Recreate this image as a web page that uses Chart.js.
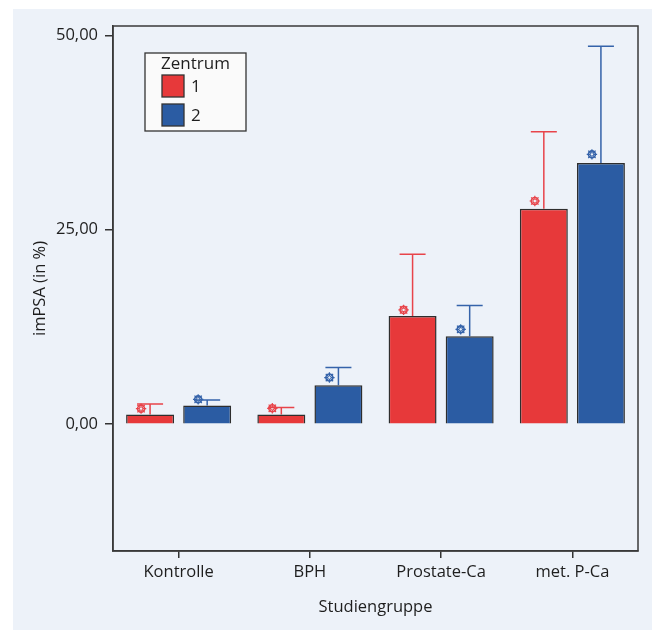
<!DOCTYPE html>
<html>
<head>
<meta charset="utf-8">
<script src="https://cdn.jsdelivr.net/npm/chart.js@4"></script>
<style>
    html, body { margin: 0; padding: 0; background: #ffffff; }
    #wrap { position: relative; width: 652px; height: 630px; }
</style>
</head>
<body>
<div id="wrap"><canvas id="myChart" width="652" height="630"></canvas></div>
<script>
// Daten
const kategorien = ["Kontrolle", "BPH", "Prostate-Ca", "met. P-Ca"];
const zentrum1 = [1.25, 1.25, 13.9, 27.7];
const zentrum2 = [2.4, 5.0, 11.3, 33.6];
// obere Fehlerbalken
const fehlerOben1 = [2.6, 2.15, 21.85, 37.6];
const fehlerOben2 = [3.1, 7.3, 15.25, 48.6];
// Markierungen (Sternsymbol)
const marker1 = [2.0, 2.05, 14.7, 28.7];
const marker2 = [3.2, 6.0, 12.2, 34.7];
const yTicks = [0, 25, 50];

const ROT = "#e7393a";
const BLAU = "#2b5ca3";
const HINTERGRUND = "#edf2f9";
const SCHRIFT = "'Open Sans', sans-serif";
const TEXTFARBE = "#1e1e1e";

/**
 * Hintergrund, Rahmen des Plotbereichs
 */
const hintergrundPlugin = {
    id: "hintergrund",
    beforeDraw(chart) {
        const ctx = chart.ctx;
        ctx.save();
        ctx.fillStyle = HINTERGRUND;
        ctx.fillRect(13, 9, chart.width - 13, chart.height - 9);
        ctx.restore();
    },
    afterDraw(chart) {
        const { ctx, chartArea } = chart;
        ctx.save();
        ctx.strokeStyle = "#3a3a3a";
        ctx.lineWidth = 1.5;
        ctx.strokeRect(chartArea.left, chartArea.top, chartArea.right - chartArea.left, chartArea.bottom - chartArea.top);
        ctx.restore();
    }
};

/**
 * Zeichnet ein kleines Zahnrad-Symbol
 */
function zeichneMarker(ctx, x, y, farbe) {
    ctx.save();
    ctx.strokeStyle = farbe;
    ctx.lineWidth = 1.6;
    ctx.beginPath();
    ctx.arc(x, y, 3.5, 0, Math.PI * 2);
    ctx.stroke();
    ctx.beginPath();
    ctx.lineWidth = 1.2;
    for (let i = 0; i < 8; i++) {
        const a = i * Math.PI / 4;
        ctx.moveTo(x + Math.cos(a) * 1.2, y + Math.sin(a) * 1.2);
        ctx.lineTo(x + Math.cos(a) * 5.2, y + Math.sin(a) * 5.2);
    }
    ctx.stroke();
    ctx.restore();
}

/**
 * Fehlerbalken und Markierungen
 */
const fehlerPlugin = {
    id: "fehlerbalken",
    beforeDatasetsDraw(chart) {
        const ctx = chart.ctx;
        const yScale = chart.scales.y;
        const oben = [fehlerOben1, fehlerOben2];
        const farben = ["#e8444a", "#3563aa"];
        chart.data.datasets.forEach((ds, d) => {
            const meta = chart.getDatasetMeta(d);
            meta.data.forEach((bar, i) => {
                const yTop = yScale.getPixelForValue(oben[d][i]);
                ctx.save();
                ctx.strokeStyle = farben[d];
                ctx.lineWidth = 1.5;
                ctx.beginPath();
                ctx.moveTo(bar.x, bar.y);
                ctx.lineTo(bar.x, yTop);
                ctx.moveTo(bar.x - 13, yTop);
                ctx.lineTo(bar.x + 13, yTop);
                ctx.stroke();
                ctx.restore();
            });
        });
    },
    afterDatasetsDraw(chart) {
        const ctx = chart.ctx;
        const yScale = chart.scales.y;
        const marker = [marker1, marker2];
        const farben = ["#e8444a", "#3563aa"];
        chart.data.datasets.forEach((ds, d) => {
            const meta = chart.getDatasetMeta(d);
            meta.data.forEach((bar, i) => {
                zeichneMarker(ctx, bar.x - 9, yScale.getPixelForValue(marker[d][i]), farben[d]);
            });
        });
    }
};

/**
 * Legende "Zentrum"
 */
const legendePlugin = {
    id: "legende",
    afterDraw(chart) {
        const ctx = chart.ctx;
        ctx.save();
        ctx.fillStyle = "#fafafa";
        ctx.fillRect(145, 53, 101, 78);
        ctx.strokeStyle = "#333";
        ctx.lineWidth = 1.3;
        ctx.strokeRect(145, 53, 101, 78);
        ctx.fillStyle = TEXTFARBE;
        ctx.font = "17px " + SCHRIFT;
        ctx.textBaseline = "middle";
        ctx.fillText("Zentrum", 161, 64);
        chart.data.datasets.forEach((ds, d) => {
            const y = 75 + d * 29;
            ctx.fillStyle = ds.backgroundColor;
            ctx.fillRect(162, y, 22, 22);
            ctx.strokeStyle = "#333";
            ctx.strokeRect(162, y, 22, 22);
            ctx.fillStyle = TEXTFARBE;
            ctx.fillText(ds.label, 191, y + 12);
        });
        ctx.restore();
    }
};

new Chart(document.getElementById("myChart").getContext("2d"), {
    type: "bar",
    data: {
        labels: kategorien,
        datasets: [
            {
                label: "1",
                data: zentrum1,
                backgroundColor: ROT,
                borderColor: "#2e2e2e",
                borderWidth: 1.5,
                categoryPercentage: 0.87,
                barPercentage: 0.84
            },
            {
                label: "2",
                data: zentrum2,
                backgroundColor: BLAU,
                borderColor: "#2e2e2e",
                borderWidth: 1.5,
                categoryPercentage: 0.87,
                barPercentage: 0.84
            }
        ]
    },
    options: {
        responsive: false,
        animation: false,
        devicePixelRatio: 1,
        layout: { padding: { top: 26, right: 14, left: 0, bottom: 0 } },
        scales: {
            x: {
                grid: { display: true, drawOnChartArea: false, drawTicks: true, tickLength: 7, offset: false, color: "#333", lineWidth: 1.5 },
                border: { display: true, color: "#3a3a3a", width: 1.5 },
                ticks: { color: TEXTFARBE, font: { family: SCHRIFT, size: 16.5 }, padding: 4, maxRotation: 0 },
                title: { display: true, text: "Studiengruppe", color: TEXTFARBE, font: { family: SCHRIFT, size: 16.5 }, padding: { top: 0, bottom: 13 } },
                afterFit(scale) { scale.height = 79; }
            },
            y: {
                min: -16.3,
                max: 51.2,
                afterBuildTicks(scale) { scale.ticks = yTicks.map(v => ({ value: v })); },
                grid: { display: true, drawOnChartArea: false, drawTicks: true, tickLength: 8, color: "#333", lineWidth: 1.5 },
                border: { display: true, color: "#3a3a3a", width: 1.5 },
                ticks: {
                    color: TEXTFARBE,
                    font: { family: SCHRIFT, size: 16.5 },
                    padding: 7,
                    callback: v => v.toFixed(2).replace(".", ",")
                },
                title: { display: true, text: "imPSA (in %)", color: TEXTFARBE, font: { family: SCHRIFT, size: 16.5 }, padding: { top: 30, bottom: 0 } },
                afterFit(scale) { scale.width = 113; }
            }
        },
        plugins: {
            legend: { display: false },
            tooltip: { enabled: false }
        }
    },
    plugins: [hintergrundPlugin, fehlerPlugin, legendePlugin]
});
</script>
</body>
</html>
